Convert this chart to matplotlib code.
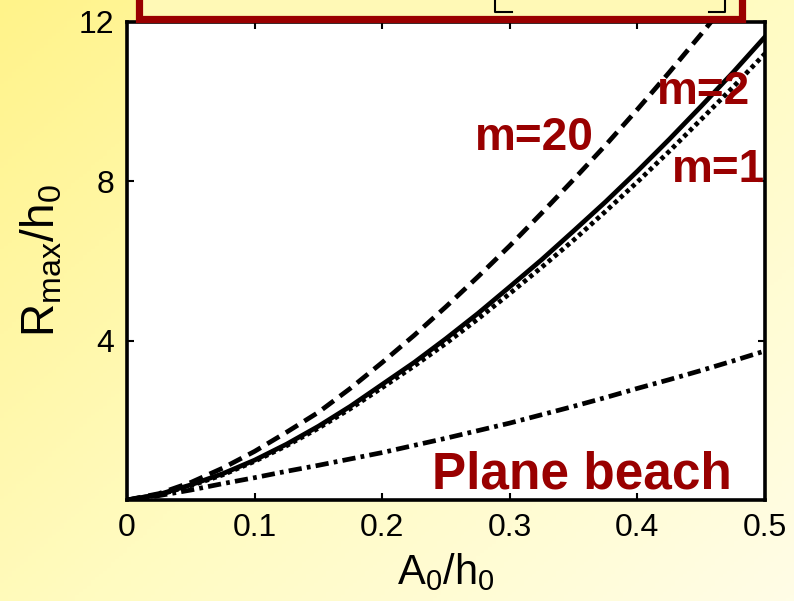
import matplotlib
matplotlib.use("Agg")

import numpy as np
import matplotlib.pyplot as plt
from matplotlib.patches import Rectangle
from matplotlib.lines import Line2D
from matplotlib.colors import LinearSegmentedColormap

# ---------------------------------------------------------------------------
# data (A0/h0 -> Rmax/h0)
# ---------------------------------------------------------------------------
a0 = [0.0, 0.025, 0.05, 0.075, 0.10, 0.125, 0.15, 0.175, 0.20, 0.225, 0.25,
      0.275, 0.30, 0.325, 0.35, 0.375, 0.40, 0.425, 0.45, 0.475, 0.50]

r_m20   = [0.0, 0.16, 0.44, 0.80, 1.22, 1.70, 2.20, 2.80, 3.45, 4.13, 4.85,
           5.60, 6.38, 7.20, 8.04, 8.90, 9.80, 10.73, 11.69, 12.68, 13.70]
r_m2    = [0.0, 0.14, 0.38, 0.66, 1.00, 1.40, 1.85, 2.35, 2.90, 3.45, 4.05,
           4.68, 5.35, 6.03, 6.75, 7.48, 8.25, 9.05, 9.88, 10.73, 11.62]
r_m1    = [0.0, 0.13, 0.36, 0.63, 0.97, 1.36, 1.80, 2.29, 2.82, 3.36, 3.93,
           4.54, 5.18, 5.84, 6.52, 7.24, 7.98, 8.75, 9.55, 10.36, 11.20]
r_plane = [0.0, 0.11, 0.25, 0.41, 0.56, 0.72, 0.87, 1.03, 1.19, 1.37, 1.55,
           1.74, 1.93, 2.14, 2.35, 2.57, 2.80, 3.02, 3.25, 3.49, 3.74]

x_ticks = [0, 0.1, 0.2, 0.3, 0.4, 0.5]
x_tick_labels = ["0", "0.1", "0.2", "0.3", "0.4", "0.5"]
y_ticks = [4, 8, 12]
y_tick_labels = ["4", "8", "12"]

DARK_RED = "#990000"

plt.rcParams["font.family"] = ["Liberation Sans", "DejaVu Sans"]
plt.rcParams["mathtext.fontset"] = "custom"
plt.rcParams["mathtext.rm"] = "Liberation Sans"
plt.rcParams["mathtext.it"] = "Liberation Sans:italic"

W, H = 794, 601
fig = plt.figure(figsize=(W / 100, H / 100), dpi=100)

# yellow gradient background
bg = fig.add_axes([0, 0, 1, 1], zorder=-10)
bg.axis("off")
gy, gx = np.mgrid[0:1:200j, 0:1:200j]
grad = (gx * 0.55 + gy * 0.45)
cmap_bg = LinearSegmentedColormap.from_list("bg", ["#fff38a", "#fffbc0", "#fffde6"])
bg.imshow(grad, cmap=cmap_bg, aspect="auto", extent=[0, 1, 0, 1], origin="upper")
bg.set_xlim(0, 1)
bg.set_ylim(0, 1)

# main axes
left, right = 127 / W, 765 / W
bottom, top = 1 - 500 / H, 1 - 21.7 / H
ax = fig.add_axes([left, bottom, right - left, top - bottom])
ax.set_facecolor("white")

lw = 3.4
ax.plot(a0, r_m20, color="black", lw=lw, dashes=(3.0, 1.6))
ax.plot(a0, r_m2, color="black", lw=lw)
ax.plot(a0, r_m1, color="black", lw=lw, dashes=(0.9, 0.8))
ax.plot(a0, r_plane, color="black", lw=lw, dashes=(2.8, 1.1, 0.8, 1.1))

ax.set_xlim(0, 0.5)
ax.set_ylim(0, 12)
ax.set_xticks(x_ticks)
ax.set_xticklabels(x_tick_labels)
ax.set_yticks(y_ticks)
ax.set_yticklabels(y_tick_labels)
ax.tick_params(direction="in", length=5, width=1.5, labelsize=23, pad=9,
               top=True, right=True)
for sp in ax.spines.values():
    sp.set_linewidth(2.6)

ax.set_xlabel(r"$\mathrm{A_0/h_0}$", fontsize=30, labelpad=6)
ax.set_ylabel(r"$\mathrm{R_{max}/h_0}$", fontsize=33, labelpad=10)

# curve annotations
txt = dict(color=DARK_RED, fontweight="bold", ha="left", va="baseline")
ax.text(0.273, 8.78, "m=20", fontsize=33, **txt)
ax.text(0.415, 9.93, "m=2", fontsize=33, **txt)
ax.text(0.427, 7.98, "m=1", fontsize=33, **txt)
ax.text(0.239, 0.28, "Plane beach", fontsize=37, **txt)

# clipped formula box at the top
box = Rectangle((139 / W, 1 - 18.5 / H), (742 - 139) / W, 0.2,
                transform=fig.transFigure, facecolor="#fff9b6",
                edgecolor=DARK_RED, lw=5.2, zorder=5)
fig.add_artist(box)
for xs, ys in [([495, 495, 512], [0, 12, 12]), ([709, 725, 725], [12, 12, 0])]:
    fig.add_artist(Line2D([x / W for x in xs], [1 - y / H for y in ys],
                          transform=fig.transFigure, color="black",
                          lw=1.5, zorder=6))

fig.savefig("out.png", dpi=100)
